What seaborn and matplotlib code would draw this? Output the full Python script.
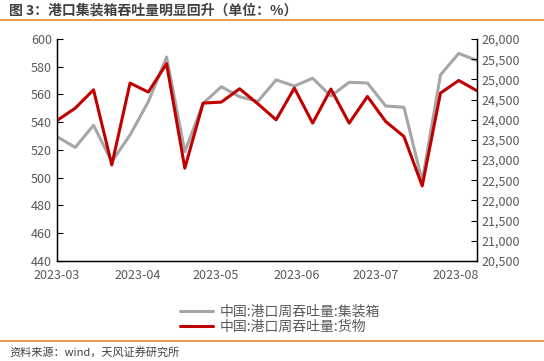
import pandas as pd
import matplotlib
matplotlib.use("Agg")
import matplotlib.pyplot as plt
import matplotlib.dates as mdates
from matplotlib.ticker import FuncFormatter, MultipleLocator
import seaborn as sns

# ------------------------------------------------------------
# Data (weekly port throughput)
# ------------------------------------------------------------
week_start = "2023-03-01"
n_weeks = 24

# 集装箱 (left axis)
container = [529.6, 521.9, 537.8, 511.6, 530.8, 554.8, 587.0, 518.8,
             553.6, 565.6, 558.4, 555.0, 570.5, 566.1, 571.7, 558.9,
             568.8, 568.3, 551.7, 550.8, 497.5, 574.1, 589.6, 584.4]

# 货物 (right axis)
cargo = [23980, 24288, 24742, 22881, 24908, 24685, 25387, 22800,
         24412, 24437, 24767, 24394, 23998, 24784, 23916, 24760,
         23916, 24576, 23956, 23584, 22360, 24660, 24973, 24717]

label_container = "中国:港口周吞吐量:集装箱"
label_cargo = "中国:港口周吞吐量:货物"
title_text = "图 3：港口集装箱吞吐量明显回升（单位：%）"
source_text = "资料来源：wind，天风证券研究所"

GRAY = "#A6A6A6"
RED = "#C00000"
TICK_COLOR = "#595959"
ORANGE = "#E8872E"

# ------------------------------------------------------------
# Build the figure
# ------------------------------------------------------------
sns.set_style("white")
plt.rcParams["font.family"] = ["Noto Sans CJK SC", "DejaVu Sans"]

df = pd.DataFrame({
    "date": pd.date_range(week_start, periods=n_weeks, freq="7D"),
    "container": container,
    "cargo": cargo,
})

fig = plt.figure(figsize=(5.44, 3.61), dpi=100)
ax = fig.add_axes([57 / 544, 1 - 261 / 361, 420 / 544, 222 / 361])
ax2 = ax.twinx()

sns.lineplot(data=df, x="date", y="container", ax=ax, color=GRAY,
             linewidth=2.2, label=label_container, legend=False)
sns.lineplot(data=df, x="date", y="cargo", ax=ax2, color=RED,
             linewidth=2.2, label=label_cargo, legend=False)

ax.set_xlim(df["date"].iloc[0], df["date"].iloc[-1])
ax.set_ylim(440, 600)
ax.yaxis.set_major_locator(MultipleLocator(20))
ax2.set_ylim(20500, 26000)
ax2.yaxis.set_major_locator(MultipleLocator(500))
ax2.yaxis.set_major_formatter(FuncFormatter(lambda v, p: f"{v:,.0f}"))

ax.xaxis.set_major_locator(mdates.MonthLocator())
ax.xaxis.set_major_formatter(mdates.DateFormatter("%Y-%m"))

for a in (ax, ax2):
    a.set_xlabel("")
    a.set_ylabel("")
    a.tick_params(direction="in", length=4, width=0.8, colors="black",
                  labelcolor=TICK_COLOR, labelsize=9)
    a.spines["top"].set_visible(False)
    for s in ("left", "bottom", "right"):
        a.spines[s].set_color("black")
        a.spines[s].set_linewidth(0.9)
    a.grid(False)
ax.tick_params(axis="x", pad=6)

# Legend below the plot
handles = ax.get_lines()[:1] + ax2.get_lines()[:1]
fig.legend(handles, [label_container, label_cargo], loc="center",
           bbox_to_anchor=(0.515, 0.116), frameon=False, fontsize=10,
           handlelength=2.4, labelspacing=0.1, handletextpad=0.5,
           labelcolor=TICK_COLOR)

# Title and source with orange rules
fig.text(9 / 544, 1 - 10 / 361, title_text, fontsize=10, fontweight="bold",
         color="#404040", va="center", ha="left")
fig.add_artist(plt.Line2D([0, 1], [1 - 20 / 361, 1 - 20 / 361],
                          color=ORANGE, linewidth=1.2))
fig.add_artist(plt.Line2D([0, 1], [1 - 341 / 361, 1 - 341 / 361],
                          color=ORANGE, linewidth=1.2))
fig.text(9 / 544, 1 - 352 / 361, source_text, fontsize=8,
         color="#404040", va="center", ha="left")

fig.savefig("out.png", dpi=100)
